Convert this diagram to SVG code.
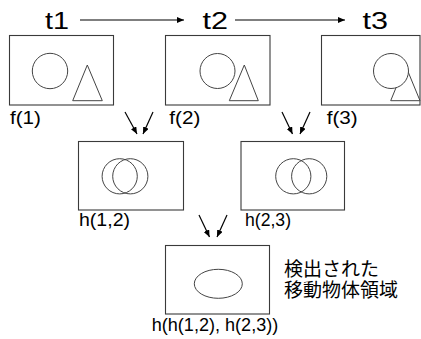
<svg xmlns="http://www.w3.org/2000/svg" width="421" height="339" viewBox="0 0 421 339">
<defs>
<style>
.box{fill:#fff;stroke:#3a3a3a;stroke-width:1.1}
.shp{fill:#fff;stroke:#444;stroke-width:1}
.lbl{font-family:"Liberation Sans",Arial,sans-serif;font-size:18px;fill:#000}
.time{font-family:"Liberation Sans",Arial,sans-serif;font-size:23px;fill:#000}
.jp{font-family:"Liberation Sans","Noto Sans CJK JP",sans-serif;font-size:19px;fill:#000}
.arr{stroke:#000;stroke-width:1.2;fill:none;marker-end:url(#ah)}
</style>
<marker id="ah" markerUnits="userSpaceOnUse" markerWidth="8" markerHeight="6" refX="7" refY="3" orient="auto">
<path d="M0,0 L7,3 L0,6 Z" fill="#000"/>
</marker>
</defs>
<rect width="421" height="339" fill="#fff"/>
<g id="times">
<text class="time" x="45" y="29" textLength="24" lengthAdjust="spacingAndGlyphs">t1</text>
<text class="time" x="202.5" y="29" textLength="25.5" lengthAdjust="spacingAndGlyphs">t2</text>
<text class="time" x="362.5" y="29" textLength="25.5" lengthAdjust="spacingAndGlyphs">t3</text>
</g>
<g id="connectors">
<line class="arr" x1="80" y1="20" x2="184" y2="20"/>
<line class="arr" x1="235" y1="20" x2="345" y2="20"/>
<line class="arr" x1="125" y1="112" x2="137" y2="134"/>
<line class="arr" x1="153" y1="112" x2="143" y2="134"/>
<line class="arr" x1="282" y1="112" x2="292.5" y2="134"/>
<line class="arr" x1="310" y1="112" x2="300" y2="134"/>
<line class="arr" x1="199" y1="215" x2="209.5" y2="237"/>
<line class="arr" x1="227" y1="215" x2="217" y2="237"/>
</g>
<g id="f1">
<rect class="box" x="9.5" y="35.5" width="104" height="69.5"/>
<circle class="shp" cx="50" cy="71" r="17.7"/>
<polygon class="shp" points="87.3,65 102.3,100.7 72.7,100.7"/>
<text class="lbl" x="10" y="124" textLength="31" lengthAdjust="spacingAndGlyphs">f(1)</text>
</g>
<g id="f2">
<rect class="box" x="165.5" y="35.5" width="104.5" height="69.5"/>
<circle class="shp" cx="217.5" cy="71" r="17.5"/>
<polygon class="shp" points="244.3,65 258.3,100.7 229.3,100.7"/>
<text class="lbl" x="169.3" y="124" textLength="31" lengthAdjust="spacingAndGlyphs">f(2)</text>
</g>
<g id="f3">
<rect class="box" x="321.5" y="35.5" width="98.5" height="69.5"/>
<polygon class="shp" points="405.3,65 420,100.7 390.7,100.7"/>
<circle class="shp" cx="391" cy="71" r="17.5"/>
<text class="lbl" x="326.7" y="124" textLength="31" lengthAdjust="spacingAndGlyphs">f(3)</text>
</g>
<g id="h12">
<rect class="box" x="78.5" y="141.5" width="105" height="68.5"/>
<circle class="shp" cx="119.7" cy="176.3" r="17.6" style="fill:none"/>
<circle class="shp" cx="130.3" cy="176.3" r="17.6" style="fill:none"/>
<text class="lbl" x="79" y="226" textLength="51" lengthAdjust="spacingAndGlyphs">h(1,2)</text>
</g>
<g id="h23">
<rect class="box" x="241" y="141.5" width="103.5" height="68.5"/>
<circle class="shp" cx="293.3" cy="176.3" r="17.6" style="fill:none"/>
<circle class="shp" cx="309.2" cy="176.3" r="17.6" style="fill:none"/>
<text class="lbl" x="245" y="226" textLength="46" lengthAdjust="spacingAndGlyphs">h(2,3)</text>
</g>
<g id="hh">
<rect class="box" x="165.5" y="245.5" width="104" height="68.5"/>
<ellipse class="shp" cx="218.3" cy="283.8" rx="24" ry="14.5"/>
<text class="lbl" x="151.7" y="331" textLength="126.6" lengthAdjust="spacingAndGlyphs">h(h(1,2), h(2,3))</text>
</g>
<g id="caption">
<text class="jp" x="284" y="276">検出された</text>
<text class="jp" x="284" y="297">移動物体領域</text>
</g>
</svg>
